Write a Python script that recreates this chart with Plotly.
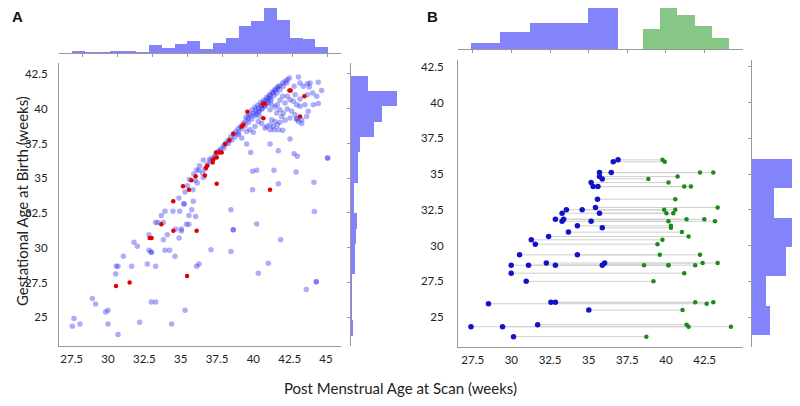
import plotly.graph_objects as go

# ---------------- Panel A data (PMA at scan, GA at birth) ----------------
a_band_points = [
    (42.48, 42.21), (42.34, 42.09), (42.18, 41.97), (42.02, 41.85), (41.83, 41.66), (41.65, 41.49),
    (41.49, 41.32), (41.33, 41.13), (41.15, 40.94), (41.03, 40.77), (40.87, 40.61), (40.69, 40.41),
    (40.53, 40.22), (40.34, 40.05), (40.18, 39.89), (40.00, 39.69), (39.82, 39.50), (39.66, 39.33),
    (39.50, 39.17), (39.31, 38.97), (39.13, 38.73), (38.97, 38.57), (38.81, 38.38), (38.62, 38.18),
    (38.44, 37.97), (38.28, 37.73), (38.12, 37.54), (37.94, 37.34), (37.75, 37.10), (37.59, 36.94),
    (37.36, 36.62), (37.20, 36.46), (37.02, 36.22), (36.83, 35.98), (36.67, 35.67), (36.51, 35.38),
    (42.29, 41.85), (42.06, 41.61), (41.83, 41.37), (41.61, 41.13), (41.42, 40.94), (41.19, 40.70),
    (40.96, 40.46), (40.80, 40.22), (40.57, 39.98), (40.34, 39.74), (40.11, 39.50), (39.89, 39.26),
    (39.66, 39.02), (39.43, 38.78), (39.20, 38.54), (38.97, 38.26), (38.74, 37.97), (38.51, 37.73),
    (38.28, 37.49), (37.98, 37.18), (37.71, 36.94), (37.43, 36.58),
    (39.90, 39.90), (40.10, 40.10), (40.30, 40.25), (40.50, 40.45), (40.70, 40.60), (40.90, 40.80),
    (41.10, 41.00), (41.30, 41.20), (41.50, 41.40), (41.70, 41.60), (39.70, 39.60), (39.50, 39.40),
    (40.20, 39.60), (40.40, 39.80), (40.60, 40.00), (40.80, 40.20), (41.00, 40.40), (41.20, 40.60),
    (35.60, 34.90), (35.90, 35.30), (36.10, 35.60), (36.30, 35.90), (36.56, 36.31), (37.00, 36.36),
]

a_term_points = [
    (43.10, 42.28), (42.80, 41.61), (42.87, 41.01), (43.21, 41.85), (43.44, 41.61), (43.72, 41.80),
    (43.85, 41.56), (43.90, 41.85), (44.47, 41.90), (44.70, 41.32), (44.36, 40.89), (44.13, 40.29),
    (44.47, 40.37), (44.08, 41.13), (43.72, 41.01), (43.21, 40.70), (42.98, 40.29), (42.75, 40.53),
    (42.52, 40.65), (42.34, 40.89), (42.18, 40.41), (42.02, 40.89), (41.83, 40.61), (41.65, 40.29),
    (41.49, 40.13), (41.26, 40.29), (41.15, 39.93), (41.61, 39.69), (41.83, 39.93), (42.06, 39.69),
    (42.34, 39.98), (42.64, 39.81), (42.87, 39.57), (43.21, 40.17), (43.55, 40.29), (43.78, 39.81),
    (43.67, 39.45), (43.33, 39.21), (43.10, 39.09), (42.98, 39.26), (42.98, 39.26), (43.33, 38.93),
    (42.52, 39.33), (42.18, 39.17), (41.95, 39.45), (41.83, 39.02), (41.65, 38.85), (41.49, 39.09),
    (41.26, 39.21), (41.38, 38.73), (41.15, 38.85), (40.92, 38.73), (40.80, 38.61), (41.15, 38.49),
    (41.42, 38.49), (41.72, 38.49), (42.02, 38.45), (40.46, 39.45), (40.34, 39.09), (40.57, 38.93),
    (40.11, 38.73), (40.00, 38.30), (39.77, 38.49), (39.54, 38.37), (39.20, 37.90), (38.97, 38.14),
    (42.52, 37.82), (41.15, 37.46), (39.54, 37.46), (39.82, 36.86), (41.72, 36.98), (42.80, 36.77),
    (43.03, 36.58), (45.11, 36.46), (45.11, 36.46), (39.95, 35.50), (40.23, 35.57), (41.42, 35.57),
    (42.94, 35.45), (41.72, 34.61), (44.17, 34.71), (39.95, 34.18), (36.56, 35.05),
]

a_preterm_points = [
    (34.88, 33.58), (35.87, 33.34), (35.30, 34.01), (35.85, 34.18), (35.46, 34.46), (35.99, 34.85),
    (36.14, 34.66), (36.26, 35.57), (35.23, 33.17), (35.23, 33.15), (33.92, 32.62), (34.47, 32.62),
    (34.93, 32.62), (35.76, 32.74), (33.67, 32.31), (35.57, 32.31), (36.03, 32.24), (33.28, 31.81),
    (33.44, 31.81), (33.81, 31.81), (35.39, 31.69), (35.57, 31.69), (34.66, 31.35), (35.05, 31.35),
    (35.05, 31.21), (34.08, 30.94), (32.82, 30.94), (33.81, 30.58), (34.89, 30.70), (31.79, 30.39),
    (32.02, 30.10), (32.82, 29.81), (32.98, 29.67), (32.98, 29.67), (33.92, 29.81), (34.24, 29.81),
    (34.61, 29.38), (31.06, 29.38), (30.57, 28.66), (30.69, 28.66), (31.63, 28.66), (32.71, 28.83),
    (33.28, 28.66), (36.10, 28.66), (36.26, 28.83), (30.53, 28.11), (28.92, 26.34), (29.15, 25.96),
    (32.98, 26.10), (33.28, 26.10), (29.84, 25.38), (30.00, 25.50), (35.30, 25.50), (27.66, 24.90),
    (27.55, 24.35), (28.07, 24.52), (30.00, 24.52), (32.18, 24.64), (34.38, 24.52), (30.69, 23.76),
    (38.46, 32.74), (44.20, 32.60), (38.62, 31.30), (38.62, 31.30), (40.23, 31.71), (41.88, 30.58),
    (37.09, 29.86), (38.46, 29.72), (41.03, 28.88), (40.34, 28.16), (44.33, 27.56), (44.33, 27.56),
    (43.64, 27.00),
]

a_red_points = [
    (30.55, 27.25), (31.49, 27.50), (32.87, 30.70), (33.00, 30.70), (33.67, 31.69), (34.50, 31.23),
    (36.10, 31.23), (35.44, 27.96), (34.49, 33.34), (35.16, 34.42), (35.57, 34.18), (35.73, 34.85),
    (36.03, 35.14), (36.67, 35.19), (36.74, 35.74), (36.83, 35.90), (37.20, 36.14), (37.25, 36.34),
    (37.48, 36.50), (37.43, 36.86), (37.66, 36.86), (37.82, 36.86), (37.48, 34.61), (38.05, 37.46),
    (38.35, 37.73), (38.62, 38.20), (39.20, 38.73), (39.31, 38.85), (39.59, 39.79), (40.69, 39.31),
    (40.76, 40.37), (40.65, 40.30), (42.48, 41.32), (42.57, 41.32), (43.51, 40.89), (43.21, 39.45),
    (41.15, 34.18),
]

# marginal histograms of panel A (bar heights as read)
a_top_bin_start = 26.71
a_top_bin_width = 0.919
a_top_freq = [2.0, 1.0, 1.7, 2.3, 2.3, 1.3, 8.3, 5.7, 9.0, 12.3, 4.7, 10.0, 15.3, 27.7, 32.3, 46.7, 33.3, 15.3, 14.7, 6.0]

a_right_bin_start = 23.68
a_right_bin_width = 1.099
a_right_freq = [2.3, 0.3, 0.7, 0.7, 4.0, 4.0, 4.7, 5.7, 3.3, 2.7, 7.0, 7.3, 9.3, 23.3, 31.3, 45.7, 17.3]

# ---------------- Panel B data: (GA at birth, PMA scan 1, PMA scan 2) ----------------
b_pairs = [
    (35.99, 36.90, 39.77), (35.85, 36.59, 39.92), (35.10, 35.70, 42.20), (35.10, 36.46, 43.06),
    (34.82, 35.70, 40.75), (34.66, 35.88, 38.86), (34.40, 35.16, 40.16), (34.12, 35.29, 41.18),
    (34.12, 35.60, 41.61), (33.24, 35.57, 40.60), (32.66, 35.44, 43.34), (32.50, 33.56, 39.88),
    (32.50, 34.58, 40.60), (32.26, 33.28, 40.03), (32.26, 35.70, 40.47), (31.84, 32.85, 41.33),
    (31.84, 33.38, 42.48), (31.70, 33.28, 40.16), (31.70, 35.16, 43.17), (31.38, 34.27, 40.32),
    (31.24, 35.88, 40.32), (30.94, 33.69, 41.03), (30.63, 32.41, 41.46), (30.40, 31.29, 39.77),
    (30.10, 31.55, 39.45), (29.35, 30.53, 42.20), (29.35, 34.27, 39.60), (28.78, 32.26, 43.34),
    (28.78, 36.03, 42.37), (28.63, 29.99, 41.89), (28.63, 31.11, 40.16), (28.63, 32.85, 38.58),
    (28.63, 35.88, 40.16), (28.07, 29.99, 41.18), (27.50, 30.96, 39.19), (26.03, 32.56, 43.06),
    (26.03, 32.85, 41.89), (25.93, 28.52, 42.63), (25.49, 35.01, 41.07), (24.47, 31.70, 41.33),
    (24.33, 27.39, 44.20), (24.33, 29.43, 41.46), (23.63, 30.14, 38.73),
]

b_top1_bin_start = 27.39
b_top1_bin_width = 1.896
b_top1_counts = [2, 6, 9, 9, 16]
b_top2_bin_start = 38.50
b_top2_bin_width = 1.117
b_top2_counts = [7, 16, 12, 8, 4]
b_right_bin_start = 23.74
b_right_bin_width = 2.05
b_right_freq = [18, 14, 34, 46, 22, 42]

# ---------------- styling ----------------
FONT = "Lato, 'Open Sans', sans-serif"
AXC = "#999999"
HIST_BLUE = "#8383fb"
HIST_GREEN = "#86c786"


def centers(start, width, n):
    return [start + width * (i + 0.5) for i in range(n)]


a_points = a_band_points + a_term_points + a_preterm_points
fig = go.Figure()

# Panel A scatter
fig.add_trace(go.Scatter(x=[p[0] for p in a_points], y=[p[1] for p in a_points], mode="markers",
                         marker=dict(color="rgba(40,40,240,0.38)", size=5.5, line=dict(width=0)),
                         xaxis="x", yaxis="y", showlegend=False, hoverinfo="skip"))
fig.add_trace(go.Scatter(x=[p[0] for p in a_red_points], y=[p[1] for p in a_red_points], mode="markers",
                         marker=dict(color="#e00000", size=4.5, line=dict(width=0)),
                         xaxis="x", yaxis="y", showlegend=False))

# Panel A marginals
fig.add_trace(go.Bar(x=centers(a_top_bin_start, a_top_bin_width, len(a_top_freq)), y=a_top_freq,
                     width=a_top_bin_width, marker=dict(color=HIST_BLUE, line=dict(width=0)),
                     xaxis="x2", yaxis="y2", showlegend=False))
fig.add_trace(go.Bar(y=centers(a_right_bin_start, a_right_bin_width, len(a_right_freq)), x=a_right_freq,
                     width=a_right_bin_width, orientation="h", marker=dict(color=HIST_BLUE, line=dict(width=0)),
                     xaxis="x3", yaxis="y3", showlegend=False))

# Panel B connecting lines
lx, ly = [], []
for ga, s1, s2 in b_pairs:
    lx += [s1, s2, None]
    ly += [ga, ga, None]
fig.add_trace(go.Scatter(x=lx, y=ly, mode="lines", line=dict(color="#cfcfcf", width=1),
                         xaxis="x4", yaxis="y4", showlegend=False, hoverinfo="skip"))
fig.add_trace(go.Scatter(x=[p[2] for p in b_pairs], y=[p[0] for p in b_pairs], mode="markers",
                         marker=dict(color="#1a8a1a", size=4.5, line=dict(width=0)),
                         xaxis="x4", yaxis="y4", showlegend=False))
fig.add_trace(go.Scatter(x=[p[1] for p in b_pairs], y=[p[0] for p in b_pairs], mode="markers",
                         marker=dict(color="#1212c8", size=5.5, line=dict(width=0)),
                         xaxis="x4", yaxis="y4", showlegend=False))

# Panel B marginals
fig.add_trace(go.Bar(x=centers(b_top1_bin_start, b_top1_bin_width, len(b_top1_counts)), y=b_top1_counts,
                     width=b_top1_bin_width, marker=dict(color=HIST_BLUE, line=dict(width=0)),
                     xaxis="x5", yaxis="y5", showlegend=False))
fig.add_trace(go.Bar(x=centers(b_top2_bin_start, b_top2_bin_width, len(b_top2_counts)), y=b_top2_counts,
                     width=b_top2_bin_width, marker=dict(color=HIST_GREEN, line=dict(width=0)),
                     xaxis="x5", yaxis="y5", showlegend=False))
fig.add_trace(go.Bar(y=centers(b_right_bin_start, b_right_bin_width, len(b_right_freq)), x=b_right_freq,
                     width=b_right_bin_width, orientation="h", marker=dict(color=HIST_BLUE, line=dict(width=0)),
                     xaxis="x6", yaxis="y6", showlegend=False))

main_ax = dict(showline=True, linecolor=AXC, linewidth=1, showgrid=False, zeroline=False, ticks="",
               tickfont=dict(family=FONT, size=11.5, color="#222222"), dtick=2.5, automargin=False)
hist_ax = dict(showline=True, linecolor=AXC, linewidth=1, showgrid=False, zeroline=False,
               ticks="outside", ticklen=3, tickcolor=AXC, showticklabels=False, dtick=2.5, automargin=False)
hidden = dict(visible=False, showgrid=False, zeroline=False, automargin=False)

# The page body adds an 8 px offset, so the figure is 792x398 and positioned accordingly.
fig.update_layout(
    template="none",
    width=792, height=398, margin=dict(l=0, r=0, t=0, b=0, pad=0, autoexpand=False),
    paper_bgcolor="white", plot_bgcolor="white", bargap=0,
    font=dict(family=FONT),
    xaxis=dict(main_ax, domain=[0.06439, 0.42045], range=[26.63, 46.03], tick0=27.5, anchor="y",
               ticklabelstandoff=2),
    yaxis=dict(main_ax, domain=[0.15075, 0.86181], range=[22.93, 43.29], tick0=25, anchor="x",
               ticklabelstandoff=8),
    xaxis2=dict(hist_ax, domain=[0.06439, 0.42045], range=[25.78, 46.0], tick0=27.5, anchor="y2"),
    yaxis2=dict(hidden, domain=[0.88618, 1.0], range=[0, 45.3], anchor="x2"),
    xaxis3=dict(hidden, domain=[0.43308, 0.49495], range=[0, 49], anchor="y3"),
    yaxis3=dict(hist_ax, domain=[0.15075, 0.86181], range=[22.93, 43.29], tick0=25, anchor="x3"),
    xaxis4=dict(main_ax, domain=[0.56818, 0.92803], range=[26.55, 44.98], tick0=27.5, anchor="y4",
                ticklabelstandoff=2),
    yaxis4=dict(main_ax, domain=[0.14824, 0.86935], range=[22.91, 42.97], tick0=25, anchor="x4",
                ticklabelstandoff=11),
    xaxis5=dict(hist_ax, domain=[0.56818, 0.92803], range=[26.55, 44.98], tick0=27.5, anchor="y5"),
    yaxis5=dict(hidden, domain=[0.89698, 1.0], range=[0, 14.26], anchor="x5"),
    xaxis6=dict(hidden, domain=[0.93939, 1.0], range=[0, 48], anchor="y6"),
    yaxis6=dict(hist_ax, domain=[0.14824, 0.86935], range=[22.91, 42.97], tick0=25, anchor="x6"),
    annotations=[
        dict(text="<b>A</b>", x=0.0114, y=0.978, xref="paper", yref="paper", showarrow=False,
             xanchor="center", yanchor="middle",
             font=dict(family="Liberation Sans, Arial, sans-serif", size=15, color="#111111")),
        dict(text="<b>B</b>", x=0.5354, y=0.978, xref="paper", yref="paper", showarrow=False,
             xanchor="center", yanchor="middle",
             font=dict(family="Liberation Sans, Arial, sans-serif", size=15, color="#111111")),
        dict(text="Gestational Age at Birth (weeks)", x=0.01768, y=0.51508, xref="paper", yref="paper",
             showarrow=False, textangle=-90, xanchor="center", yanchor="middle",
             font=dict(family=FONT, size=15, color="#222222")),
        dict(text="Post Menstrual Age at Scan (weeks)", x=0.4962, y=0.04523, xref="paper", yref="paper",
             showarrow=False, xanchor="center", yanchor="middle",
             font=dict(family=FONT, size=15, color="#222222")),
    ],
)

fig.write_html("out.html")
